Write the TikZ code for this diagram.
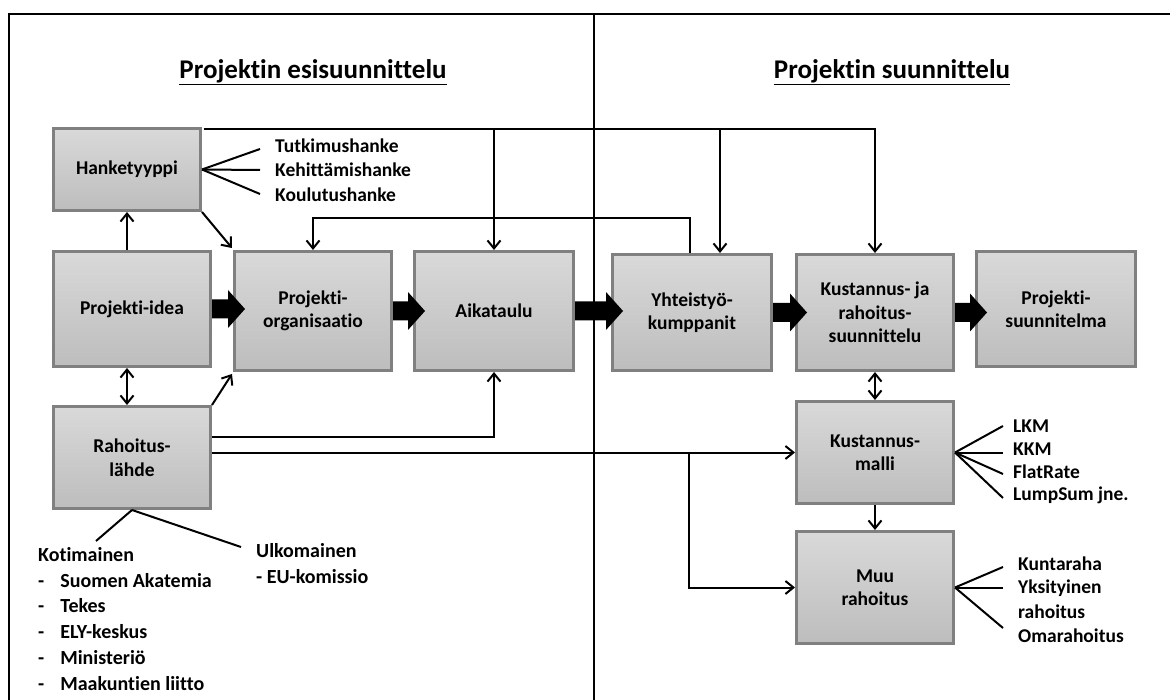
\documentclass[tikz,border=0pt]{standalone}
\usepackage{fontspec}
\setmainfont{Carlito}[Ligatures={NoCommon,NoContextual}]
\usetikzlibrary{arrows.meta,calc}
\definecolor{boxtop}{RGB}{217,217,217}
\definecolor{boxbot}{RGB}{189,189,189}
\definecolor{boxline}{RGB}{128,128,128}
\newcommand\blockarr[2]{%
  \fill let \p1=(#1.east), \p2=(#2.west) in
    (\x1,\y1+9.5pt) -- (\x2-5pt,\y1+9.5pt) -- (\x2-5pt,\y1+19pt) -- (\x2+12pt,\y1)
    -- (\x2-5pt,\y1-19pt) -- (\x2-5pt,\y1-9.5pt) -- (\x1,\y1-9.5pt) -- cycle;}
\begin{document}
\begin{tikzpicture}[x=1pt,y=-1pt,
  box/.style={draw=boxline,line width=3pt,top color=boxtop,bottom color=boxbot,
    inner sep=0pt,align=center,font=\fontsize{19.5}{23.5}\selectfont\bfseries},
  lbl/.style={anchor=west,inner sep=0pt,font=\fontsize{19.5}{23}\selectfont\bfseries},
  ttl/.style={inner sep=0pt,font=\fontsize{27}{31}\selectfont\bfseries},
  conn/.style={line width=2pt,black},
  arr/.style={conn,-{Straight Barb[length=8pt,width=13pt]}},
  darr/.style={conn,{Straight Barb[length=8pt,width=13pt]}-{Straight Barb[length=8pt,width=13pt]}},
  frameline/.style={line width=2.5pt}]
\useasboundingbox (0,0) rectangle (1170,700);
\fill[white] (0,0) rectangle (1170,700);
% frame
\draw[frameline] (9,700) -- (9,14) -- (1170,14);
\draw[frameline] (594,14) -- (594,700);
% titles
\node[ttl] (title1) at (313,71) {Projektin esisuunnittelu};
\draw[line width=1.6pt] ($(title1.south west)+(0,1.5)$) -- ($(title1.south east)+(0,1.5)$);
\node[ttl] (title2) at (892,71) {Projektin suunnittelu};
\draw[line width=1.6pt] ($(title2.south west)+(0,1.5)$) -- ($(title2.south east)+(0,1.5)$);
% boxes
\node[box,minimum width=147pt,minimum height=82pt] (hank) at (127,169.5) {Hanketyyppi};
\node[box,minimum width=157pt,minimum height=115pt] (idea) at (132,309) {Projekti-idea};
\node[box,minimum width=157pt,minimum height=119pt] (org) at (313,311) {Projekti-\\organisaatio};
\node[box,minimum width=159pt,minimum height=119pt] (aik) at (494,311) {Aikataulu};
\node[box,minimum width=159pt,minimum height=116pt] (yht) at (692,312.5) {Yhteistyö-\\kumppanit};
\node[box,minimum width=157pt,minimum height=116pt] (kus) at (875,312.5) {Kustannus- ja\\rahoitus-\\suunnittelu};
\node[box,minimum width=159pt,minimum height=115pt] (ps) at (1056,309) {Projekti-\\suunnitelma};
\node[box,minimum width=157pt,minimum height=102pt] (rah) at (132,457.5) {Rahoitus-\\lähde};
\node[box,minimum width=157pt,minimum height=102pt] (km) at (875,452.5) {Kustannus-\\malli};
\node[box,minimum width=157pt,minimum height=112pt] (muu) at (875,587.5) {Muu\\rahoitus};
% block arrows
\blockarr{idea}{org}
\blockarr{org}{aik}
\blockarr{aik}{yht}
\blockarr{yht}{kus}
\blockarr{kus}{ps}
% top distribution line
\coordinate (top) at ($(hank.north east)+(1.5,2)$);
\coordinate (yhtin) at ($(yht.north)+(28,0)$);
\draw[arr] (top) -| (kus.north);
\draw[arr] (top -| aik.north) -- (aik.north);
\draw[arr] (top -| yhtin) -- (yhtin);
% feedback yht -> org
\draw[arr] ($(yht.north)+(-2,0)$) -- ++(0,-35) -| (org.north);
% left column arrows
\draw[arr] (idea.north -| hank.south) -- (hank.south);
\draw[darr] (idea.south -| hank.south) -- (rah.north -| hank.south);
\draw[arr] (hank.south east) -- ($(org.north west)+(-1,-2)$);
\draw[arr] (rah.north east) -- ($(org.south west)+(-1,2)$);
% rahoitus lines
\draw[arr] ($(rah.east)+(0,-21)$) -| (aik.south);
\draw[arr] (rah.east |- km.west) -- (km.west);
\coordinate (br) at ($(yht.south |- km.west)+(-3,0)$);
\draw[arr] (br) |- (muu.west);
% right column arrows
\draw[darr] (kus.south) -- (km.north);
\draw[arr] (km.south) -- (muu.north);
% hanketyyppi labels
\node[lbl] (h1) at (275,146) {Tutkimushanke};
\node[lbl] (h2) at (275,170) {Kehittämishanke};
\node[lbl] (h3) at (275,195) {Koulutushanke};
\draw[conn] (hank.east) -- ($(h1.west)+(-15,3)$);
\draw[conn] (hank.east) -- ($(h2.west)+(-15,0)$);
\draw[conn] (hank.east) -- ($(h3.west)+(-15,-1)$);
% kustannusmalli labels
\node[lbl] (k1) at (1013,426) {LKM};
\node[lbl] (k2) at (1013,449) {KKM};
\node[lbl] (k3) at (1013,472) {FlatRate};
\node[lbl] (k4) at (1013,495) {LumpSum jne.};
\draw[conn] (km.east) -- ($(k1.west)+(-10,0)$);
\draw[conn] (km.east) -- ($(k2.west |- km.east)+(-10,0)$);
\draw[conn] (km.east) -- ($(k3.west)+(-10,2)$);
\draw[conn] (km.east) -- ($(k4.west)+(-10,3)$);
% muu rahoitus labels
\node[lbl] (m1) at (1018,564) {Kuntaraha};
\node[lbl] (m2) at (1018,588) {Yksityinen};
\node[lbl] (m3) at (1018,612) {rahoitus};
\node[lbl] (m4) at (1018,636) {Omarahoitus};
\draw[conn] (muu.east) -- ($(m1.west)+(-15,3)$);
\draw[conn] (muu.east) -- ($(m2.west |- muu.east)+(-15,0)$);
\draw[conn] (muu.east) -- ($(m3.west)+(-15,16)$);
% rahoituslahde sources
\node[anchor=north west,inner sep=0pt,font=\fontsize{20}{25.8}\selectfont\bfseries] (koti) at (38,543)
  {\begin{tabular}{@{}l@{\hspace{16pt}}l@{}}
   \multicolumn{2}{@{}l@{}}{Kotimainen}\\
   - & Suomen Akatemia\\
   - & Tekes\\
   - & ELY-keskus\\
   - & Ministeriö\\
   - & Maakuntien liitto
   \end{tabular}};
\node[anchor=north west,inner sep=0pt,align=left,font=\fontsize{20}{25.8}\selectfont\bfseries] (ulko) at (256,543)
  {Ulkomainen\\- EU-komissio};
\draw[conn] (rah.south) -- ($(koti.north west)+(58,-2)$);
\draw[conn] (rah.south) -- ($(ulko.north west)+(-15,4)$);
\end{tikzpicture}
\end{document}
